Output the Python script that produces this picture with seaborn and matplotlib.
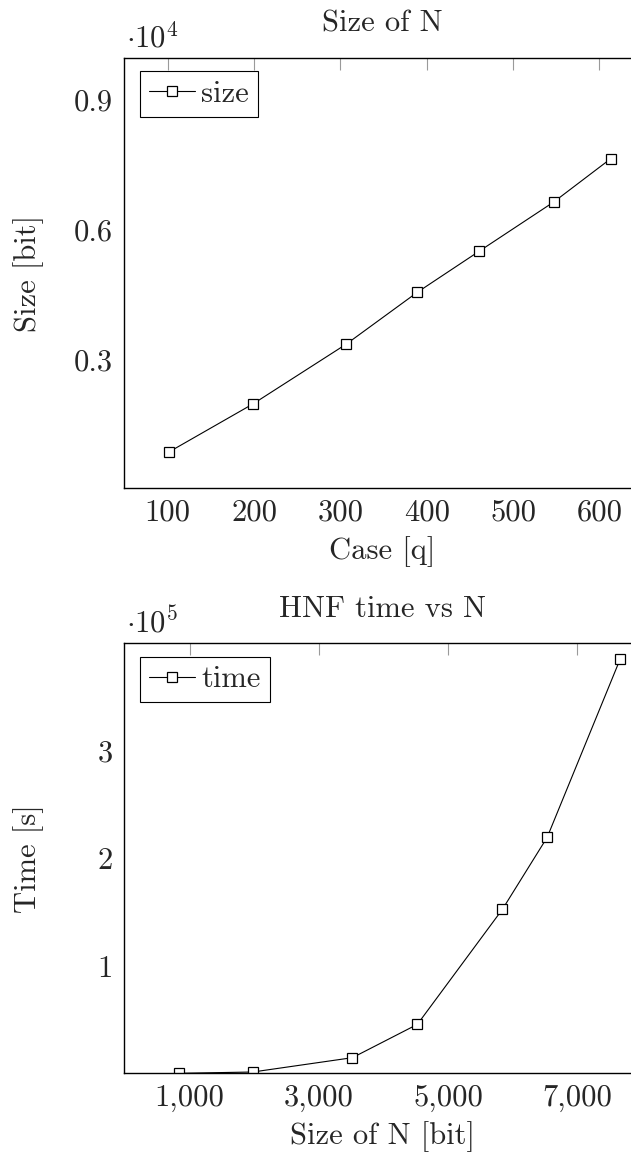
import matplotlib
matplotlib.use("Agg")
import matplotlib.pyplot as plt
import seaborn as sns
import pandas as pd

# ---- data ----
case_q = [101, 199, 307, 389, 461, 547, 613]
size_bits = [850, 1970, 3354, 4550, 5505, 6640, 7642]

n_bits = [833, 1975, 3518, 4523, 5839, 6531, 7659]
hnf_time = [500, 1700, 15000, 45900, 152600, 219300, 384400]

top_xticks = [100, 200, 300, 400, 500, 600]
top_yticks = [3000, 6000, 9000]
top_yticklabels = ["0.3", "0.6", "0.9"]
bot_xticks = [1000, 3000, 5000, 7000]
bot_xticklabels = ["1,000", "3,000", "5,000", "7,000"]
bot_yticks = [100000, 200000, 300000]
bot_yticklabels = ["1", "2", "3"]

sns.set_style("white")
plt.rcParams["font.family"] = ["cmr10"]
plt.rcParams["mathtext.fontset"] = "cm"
plt.rcParams["axes.formatter.use_mathtext"] = True
FS = 22

W, H = 631, 1159
fig = plt.figure(figsize=(W / 100, H / 100), dpi=100)

def px_axes(left, top, right, bottom):
    return fig.add_axes([left / W, 1 - bottom / H, (right - left) / W, (bottom - top) / H])

ax1 = px_axes(124.4, 57.7, 640, 488.3)
ax2 = px_axes(124.4, 643.3, 640, 1073.3)

df1 = pd.DataFrame({"q": case_q, "size": size_bits})
df2 = pd.DataFrame({"n": n_bits, "time": hnf_time})

style = dict(color="black", linewidth=0.8, marker="s", markersize=7.4,
             markerfacecolor="white", markeredgecolor="black", markeredgewidth=0.9)
sns.lineplot(data=df1, x="q", y="size", ax=ax1, label="size", **style)
sns.lineplot(data=df2, x="n", y="time", ax=ax2, label="time", **style)

def style_axes(ax, xlim, ylim, xt, xtl, yt, ytl, xlabel, ylabel, title, mult):
    ax.set_xlim(*xlim)
    ax.set_ylim(*ylim)
    ax.set_xticks(xt)
    ax.set_xticklabels(xtl)
    ax.set_yticks(yt)
    ax.set_yticklabels(ytl)
    ax.tick_params(direction="in", top=True, right=False, length=8.4, width=0.8,
                   color="#9a9a9a", labelsize=FS, pad=8.0)
    ax.tick_params(axis="y", pad=8.4)
    for s in ax.spines.values():
        s.set_color("black")
        s.set_linewidth(1.0)
    ax.set_xlabel(xlabel, fontsize=FS, labelpad=7)
    ax.set_ylabel(ylabel, fontsize=FS)
    bb = ax.get_position()
    axw = bb.width * W
    ax.yaxis.set_label_coords((44 - 124.4) / axw, 0.5)
    axh = bb.height * H
    ax.text(0.5, 1 + 26 / axh, title, transform=ax.transAxes, ha="center",
            va="baseline", fontsize=FS)
    ax.text(0.0 + 2 / axw, 1 + 10.5 / axh, mult, transform=ax.transAxes,
            ha="left", va="baseline", fontsize=FS)
    leg = ax.legend(loc="upper left",
                    bbox_to_anchor=((140 - 124.4) / axw, 1 - 13.3 / axh),
                    borderaxespad=0, frameon=True, fancybox=False,
                    edgecolor="black", framealpha=1, fontsize=FS,
                    handlelength=1.5, handletextpad=0.2, borderpad=0.3)
    leg.get_frame().set_linewidth(0.8)

style_axes(ax1, (49.9, 646.9), (15, 9979), top_xticks, [str(v) for v in top_xticks],
           top_yticks, top_yticklabels, "Case [q]", "Size [bit]", "Size of N",
           r"$\cdot 10^{4}$")
style_axes(ax2, (-10, 7967), (510, 399200), bot_xticks, bot_xticklabels,
           bot_yticks, bot_yticklabels, "Size of N [bit]", "Time [s]", "HNF time vs N",
           r"$\cdot 10^{5}$")

fig.savefig("out.png", dpi=100)
